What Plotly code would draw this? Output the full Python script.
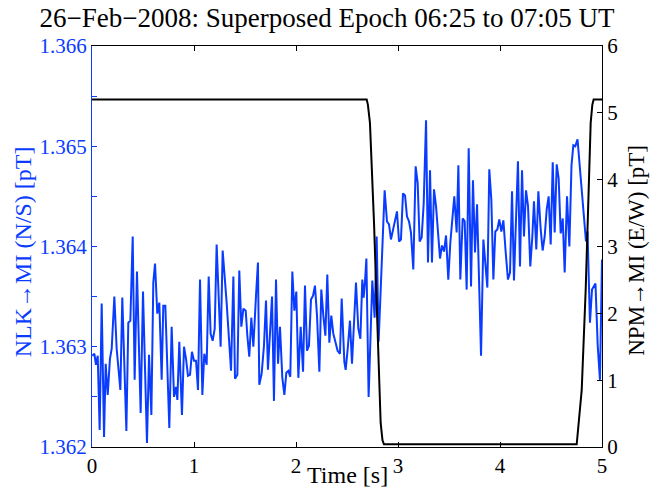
import plotly.graph_objects as go

# ---- data ----
t_ns = [0.003, 0.023, 0.039, 0.056, 0.075, 0.095, 0.118, 0.134, 0.154, 0.176, 0.193, 0.219, 0.242, 0.278, 0.297,
        0.337, 0.356, 0.376, 0.399, 0.418, 0.441, 0.477, 0.500, 0.539, 0.559, 0.582, 0.601, 0.618, 0.640, 0.660,
        0.683, 0.699, 0.719, 0.758, 0.781, 0.804,
        0.824, 0.837, 0.856, 0.882, 0.902, 0.922, 0.941, 0.961, 0.980, 1.000, 1.020, 1.039, 1.059, 1.082, 1.101,
        1.124, 1.144, 1.163, 1.183, 1.203, 1.222, 1.261, 1.281, 1.320, 1.363, 1.386, 1.402, 1.425, 1.444, 1.464,
        1.484, 1.507, 1.523, 1.542, 1.562, 1.582, 1.608, 1.627, 1.640,
        1.663, 1.686, 1.706, 1.725, 1.745, 1.765, 1.784, 1.804, 1.824, 1.843, 1.866, 1.886, 1.905, 1.925, 1.944,
        1.964, 1.984, 2.003, 2.023, 2.046, 2.069, 2.088, 2.108, 2.127, 2.147, 2.167, 2.186, 2.206, 2.229, 2.248,
        2.268, 2.288, 2.307, 2.327, 2.346, 2.366, 2.386, 2.408, 2.431, 2.448, 2.474,
        2.487, 2.507, 2.529, 2.549, 2.569, 2.588, 2.611, 2.631, 2.650, 2.663, 2.676, 2.690, 2.712, 2.748, 2.771,
        2.791, 2.810, 2.830, 2.869, 2.892, 2.912, 2.931, 2.951, 2.971, 2.990, 3.010, 3.029, 3.049, 3.069, 3.088,
        3.108, 3.127, 3.150, 3.173, 3.193, 3.212, 3.232, 3.252, 3.275, 3.294,
        3.314, 3.333, 3.353, 3.373, 3.392, 3.412, 3.431, 3.451, 3.471, 3.493, 3.513, 3.533, 3.552, 3.575, 3.592,
        3.611, 3.634, 3.654, 3.673, 3.693, 3.716, 3.735, 3.755, 3.775, 3.794, 3.814, 3.837, 3.856, 3.876, 3.895,
        3.915, 3.935, 3.954, 3.974, 3.993, 4.013, 4.033, 4.056, 4.078, 4.098, 4.118, 4.137,
        4.176, 4.196, 4.216, 4.235, 4.255, 4.275, 4.297, 4.317, 4.333, 4.356, 4.376, 4.399, 4.418, 4.438, 4.458,
        4.477, 4.497, 4.517, 4.536, 4.556, 4.575, 4.595, 4.615, 4.634, 4.657, 4.680, 4.701, 4.719, 4.738, 4.760,
        4.778, 4.799, 4.821, 4.843, 4.858, 4.882, 4.902, 4.922, 4.936, 4.958, 4.980, 5.000]

nlk_ns = [1.36291, 1.36293, 1.36282, 1.36291, 1.36217, 1.36343, 1.36210, 1.36283, 1.36252, 1.36288, 1.36298,
          1.36350, 1.36298, 1.36257, 1.36349, 1.36216, 1.36324, 1.36326, 1.36410, 1.36267, 1.36375, 1.36234,
          1.36355, 1.36204, 1.36292, 1.36232, 1.36364, 1.36383, 1.36333, 1.36344, 1.36267, 1.36341, 1.36341,
          1.36219, 1.36320, 1.36250,
          1.36260, 1.36247, 1.36305, 1.36232, 1.36300, 1.36288, 1.36271, 1.36272, 1.36295, 1.36286, 1.36286,
          1.36257, 1.36367, 1.36252, 1.36293, 1.36282, 1.36370, 1.36313, 1.36306, 1.36318, 1.36402, 1.36300,
          1.36396, 1.36344, 1.36276, 1.36370, 1.36268, 1.36272, 1.36376, 1.36320, 1.36338, 1.36336, 1.36311,
          1.36290, 1.36329, 1.36300, 1.36351, 1.36384, 1.36262,
          1.36273, 1.36301, 1.36346, 1.36277, 1.36318, 1.36350, 1.36246, 1.36367, 1.36283, 1.36320, 1.36269,
          1.36252, 1.36274, 1.36276, 1.36270, 1.36375, 1.36336, 1.36355, 1.36269, 1.36320, 1.36275, 1.36361,
          1.36296, 1.36301, 1.36347, 1.36351, 1.36361, 1.36331, 1.36275, 1.36357, 1.36331, 1.36311, 1.36372,
          1.36304, 1.36331, 1.36313, 1.36305, 1.36296, 1.36293, 1.36348, 1.36285,
          1.36277, 1.36298, 1.36326, 1.36283, 1.36324, 1.36364, 1.36318, 1.36308, 1.36367, 1.36349, 1.36364,
          1.36388, 1.36250, 1.36366, 1.36329, 1.36410, 1.36305, 1.36359, 1.36456, 1.36425, 1.36422, 1.36407,
          1.36417, 1.36425, 1.36435, 1.36405, 1.36407, 1.36453, 1.36451, 1.36430, 1.36425, 1.36414, 1.36377,
          1.36480, 1.36463, 1.36405, 1.36409, 1.36443, 1.36526, 1.36384,
          1.36476, 1.36384, 1.36457, 1.36440, 1.36414, 1.36388, 1.36401, 1.36395, 1.36411, 1.36367, 1.36404,
          1.36424, 1.36450, 1.36414, 1.36481, 1.36367, 1.36428, 1.36425, 1.36357, 1.36498, 1.36360, 1.36466,
          1.36394, 1.36442, 1.36361, 1.36291, 1.36407, 1.36382, 1.36359, 1.36477, 1.36447, 1.36367, 1.36415,
          1.36417, 1.36427, 1.36415, 1.36426, 1.36394, 1.36367, 1.36374, 1.36455, 1.36366,
          1.36485, 1.36380, 1.36476, 1.36410, 1.36456, 1.36440, 1.36380, 1.36410, 1.36445, 1.36397, 1.36455,
          1.36417, 1.36396, 1.36410, 1.36437, 1.36450, 1.36402, 1.36484, 1.36414, 1.36482, 1.36468, 1.36413,
          1.36428, 1.36374, 1.36450, 1.36400, 1.36481, 1.36501, 1.36500, 1.36507,
          1.36483, 1.36458, 1.36433, 1.36405, 1.36415, 1.36324, 1.36357, 1.36361, 1.36363, 1.36301, 1.36267,
          1.36387]

t_ew = [0.0, 2.693, 2.705, 2.725, 2.765, 2.801, 2.830, 2.848, 2.862, 4.752, 4.801, 4.840, 4.870, 4.889, 4.905, 4.918, 5.0]
npm_ew = [5.2, 5.2, 5.12, 4.85, 3.35, 1.85, 0.36, 0.10, 0.04, 0.04, 0.85, 2.35, 3.84, 4.85, 5.12, 5.2, 5.2]

left_tickvals = [1.362, 1.3625, 1.363, 1.3635, 1.364, 1.3645, 1.365, 1.3655, 1.366]
left_ticktext = ["1.362", "", "1.363", "", "1.364", "", "1.365", "", "1.366"]
right_tickvals = [0, 1, 2, 3, 4, 5, 6]
x_tickvals = [0, 1, 2, 3, 4, 5]

BLUE = "#0A3CFF"
FONT = "Liberation Serif"

W, H = 652, 497

fig = go.Figure()
fig.add_trace(go.Scatter(x=t_ns, y=nlk_ns, mode="lines", line=dict(color=BLUE, width=2),
                         yaxis="y", showlegend=False, hoverinfo="skip"))
fig.add_trace(go.Scatter(x=t_ew, y=npm_ew, mode="lines", line=dict(color="black", width=2),
                         yaxis="y2", showlegend=False, hoverinfo="skip"))

fig.update_layout(
    width=W, height=H,
    margin=dict(l=92, r=50, t=46, b=50),
    paper_bgcolor="white", plot_bgcolor="white",
    font=dict(family=FONT, size=21, color="black"),
    title=dict(text="26\u2212Feb\u22122008: Superposed Epoch 06:25 to 07:05 UT",
               x=327 / W, xanchor="center", y=1 - 18 / H, yanchor="middle",
               font=dict(family=FONT, size=27, color="black")),
    xaxis=dict(range=[0, 5], tickvals=x_tickvals, ticks="inside", ticklen=5, tickcolor="black",
               showline=True, linecolor="black", linewidth=1, mirror="ticks",
               showgrid=False, zeroline=False, tickfont=dict(family=FONT, size=21)),
    yaxis=dict(range=[1.362, 1.366], tickvals=left_tickvals, ticktext=left_ticktext,
               ticks="inside", ticklen=5, tickcolor=BLUE,
               showline=True, linecolor=BLUE, linewidth=1,
               showgrid=False, zeroline=False, tickfont=dict(family=FONT, size=21, color=BLUE)),
    yaxis2=dict(range=[0, 6], tickvals=right_tickvals, overlaying="y", side="right",
                ticks="inside", ticklen=5, tickcolor="black",
                showline=True, linecolor="black", linewidth=1,
                showgrid=False, zeroline=False, tickfont=dict(family=FONT, size=21, color="black")),
    annotations=[
        dict(text="Time [s]", xref="paper", yref="paper", x=0.5, y=-0.07,
             xanchor="center", yanchor="middle", showarrow=False,
             font=dict(family=FONT, size=24, color="black")),
        dict(text="NLK\u2192MI (N/S) [pT]", xref="paper", yref="paper", x=-0.135, y=0.486,
             xanchor="center", yanchor="middle", textangle=-90, showarrow=False,
             font=dict(family=FONT, size=24, color=BLUE)),
        dict(text="NPM\u2192MI (E/W) [pT]", xref="paper", yref="paper", x=1.066, y=0.491,
             xanchor="center", yanchor="middle", textangle=-90, showarrow=False,
             font=dict(family=FONT, size=23, color="black")),
    ],
)

# remove the browser's default 8px body margin so the figure sits at the page origin
fig.write_html("out.html", config={"displayModeBar": False},
               post_script="document.body.style.margin='0';")
